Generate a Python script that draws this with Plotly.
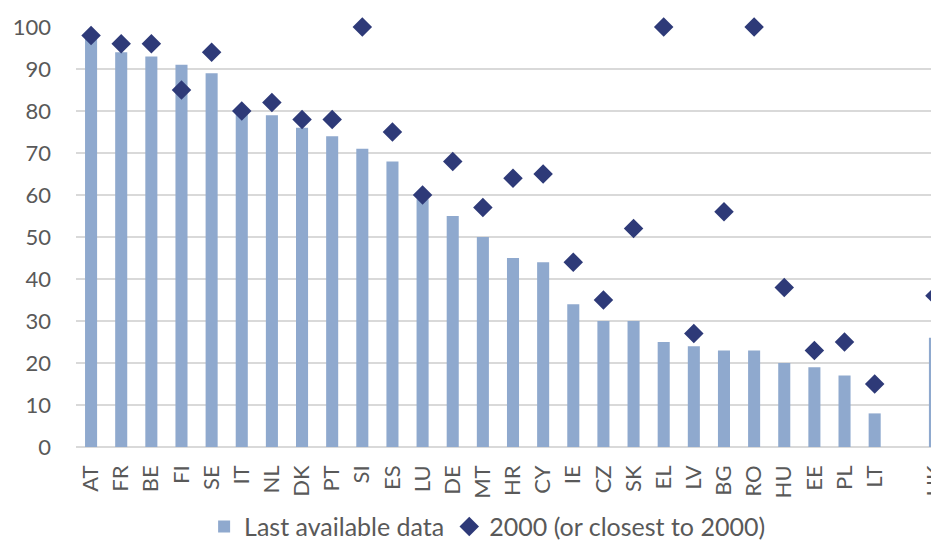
import plotly.graph_objs as go

countries = ["AT", "FR", "BE", "FI", "SE", "IT", "NL", "DK", "PT", "SI", "ES", "LU", "DE", "MT",
             "HR", "CY", "IE", "CZ", "SK", "EL", "LV", "BG", "RO", "HU", "EE", "PL", "LT", " ", "UK"]
last_data = [98, 94, 93, 91, 89, 80, 79, 76, 74, 71, 68, 59, 55, 50,
             45, 44, 34, 30, 30, 25, 24, 23, 23, 20, 19, 17, 8, None, 26]
year_2000 = [98, 96, 96, 85, 94, 80, 82, 78, 78, 100, 75, 60, 68, 57,
             64, 65, 44, 35, 52, 100, 27, 56, 100, 38, 23, 25, 15, None, 36]

font_family = "Lato, Open Sans, sans-serif"
grey_text = "#595959"

fig = go.Figure()

fig.add_trace(go.Bar(x=countries, y=last_data, name="Last available data",
                     marker=dict(color="#8FA9CE", line=dict(width=0))))

fig.add_trace(go.Scatter(x=countries, y=year_2000, name="2000 (or closest to 2000)",
                         mode="markers", cliponaxis=False,
                         marker=dict(symbol="diamond", size=15, color="#2E3A78")))

# page body has an 8px margin, so the margins here are 8px smaller
fig.update_layout(
    width=939, height=542,
    margin=dict(l=68, r=0, t=19, b=103, autoexpand=False),
    plot_bgcolor="white", paper_bgcolor="white",
    bargap=0.6,
    font=dict(family=font_family, size=22, color=grey_text),
    showlegend=True,
    legend=dict(orientation="h", x=0.472, xanchor="center", y=-0.19, yanchor="middle",
                font=dict(size=25, color=grey_text), itemwidth=30, traceorder="normal"),
    xaxis=dict(type="category", categoryorder="array", categoryarray=countries,
               range=[-0.5, 28.4], tickangle=-90, showgrid=False, showline=False,
               ticks="", ticklabelstandoff=13, tickfont=dict(size=22, color=grey_text)),
    yaxis=dict(range=[0, 100], dtick=10, showgrid=True, gridcolor="#D9D9D9", gridwidth=1.5,
               zeroline=True, zerolinecolor="#D9D9D9", zerolinewidth=1.5,
               showline=False, ticks="", ticklabelstandoff=24,
               tickfont=dict(size=22, color=grey_text)),
)

fig.write_html("out.html")
